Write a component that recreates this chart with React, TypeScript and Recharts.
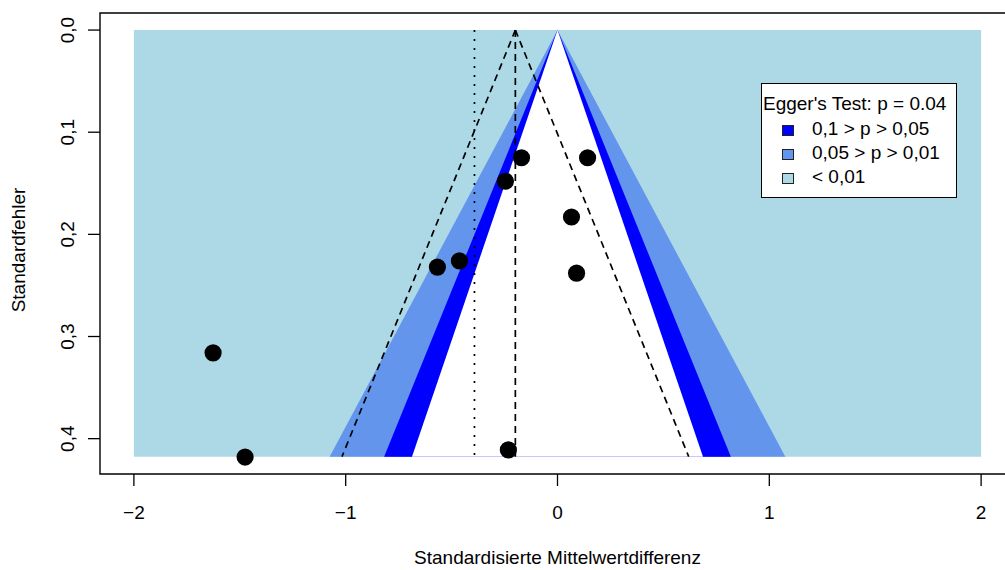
import {
  ComposedChart,
  Area,
  Line,
  Scatter,
  XAxis,
  YAxis,
  ReferenceArea,
  Legend,
} from "recharts";

// studies
const studySmd = [-1.626, -1.475, -0.567, -0.463, -0.246, -0.17, 0.142, 0.066, 0.09, -0.232];
const studySe = [0.316, 0.418, 0.232, 0.226, 0.148, 0.125, 0.125, 0.183, 0.238, 0.411];

const pooledSmd = -0.199; // dashed funnel centre
const adjustedSmd = -0.392; // dotted line
const seMax = 0.4176;
const shadeLimit = 2;
// contour z values for p = 0.01, 0.05, 0.1 (two sided)
const contourZ = [2.576, 1.96, 1.645];
const contourColors = ["#6495ED", "#0000FF", "#FFFFFF"];

const xTicks = [-2, -1, 0, 1, 2];
const yTicks = [0, 0.1, 0.2, 0.3, 0.4];
const xDomain = [-2.16, 2.16];
const yDomain = [-0.0167, 0.4346];

const legendTitle = "Egger's Test: p = 0.04";
const legendLabels = ["0,1 > p > 0,05", "0,05 > p > 0,01", "< 0,01"];
const legendColors = ["#0000FF", "#6495ED", "#ADD8E6"];

const seLevels = [0, seMax];
const funnelData = seLevels.map((se) => ({
  se,
  outer: [-shadeLimit, shadeLimit],
  c0: [-contourZ[0] * se, contourZ[0] * se],
  c1: [-contourZ[1] * se, contourZ[1] * se],
  c2: [-contourZ[2] * se, contourZ[2] * se],
  ciLow: pooledSmd - 1.96 * se,
  ciHigh: pooledSmd + 1.96 * se,
  pooled: pooledSmd,
  adjusted: adjustedSmd,
}));

const studies = studySmd.map((smd, i) => ({ smd, se: studySe[i] }));

const font = "'Liberation Sans', Arial, sans-serif";

const XTick = ({ x, y, payload }: any) => {
  const v = payload.value;
  const txt = v < 0 ? "\u2212" + Math.abs(v) : String(v);
  return (
    <text x={x} y={y + 33} textAnchor="middle" fontSize={19} fill="#000" fontFamily={font}>
      {txt}
    </text>
  );
};

const YTick = ({ x, y, payload }: any) => {
  const bx = x - 14;
  return (
    <text
      x={bx}
      y={y}
      transform={`rotate(-90 ${bx} ${y})`}
      textAnchor="middle"
      fontSize={19}
      fill="#000"
      fontFamily={font}
    >
      {payload.value.toFixed(1).replace(".", ",")}
    </text>
  );
};

const Dot = (props: any) => <circle cx={props.cx} cy={props.cy} r={8.6} fill="#000" />;

const LegendBox = () => (
  <div
    style={{
      position: "relative",
      width: 196,
      height: 115,
      boxSizing: "border-box",
      border: "1.3px solid #000",
      background: "#fff",
      fontFamily: font,
      fontSize: 19,
      color: "#000",
    }}
  >
    <div style={{ position: "absolute", left: 1, top: 9, lineHeight: "22px", whiteSpace: "nowrap" }}>
      {legendTitle}
    </div>
    {legendLabels.map((lab, i) => (
      <div key={lab}>
        <div
          style={{
            position: "absolute",
            left: 20,
            top: 41 + i * 24,
            width: 10,
            height: 9,
            background: legendColors[i],
            border: "1px solid #222",
          }}
        />
        <div
          style={{
            position: "absolute",
            left: 50,
            top: 34 + i * 24,
            lineHeight: "22px",
            whiteSpace: "nowrap",
          }}
        >
          {lab}
        </div>
      </div>
    ))}
  </div>
);

export default function App() {
  return (
    <div
      style={{
        position: "fixed",
        left: 0,
        top: 0,
        width: 1005,
        height: 570,
        overflow: "hidden",
        background: "#fff",
        fontFamily: font,
      }}
    >
      <ComposedChart
        width={1030}
        height={570}
        layout="vertical"
        data={funnelData}
        margin={{ top: 13, right: 15, bottom: 0, left: 0 }}
      >
        <XAxis
          type="number"
          dataKey="smd"
          domain={xDomain}
          ticks={xTicks}
          allowDataOverflow
          axisLine={false}
          tickSize={12}
          tickMargin={0}
          tickLine={{ stroke: "#000", strokeWidth: 1.3 }}
          tick={XTick}
          height={96}
          label={{
            value: "Standardisierte Mittelwertdifferenz",
            position: "insideBottom",
            offset: 6,
            fontSize: 19,
            fill: "#000",
          }}
        />
        <YAxis
          type="number"
          dataKey="se"
          domain={yDomain}
          ticks={yTicks}
          allowDataOverflow
          axisLine={false}
          tickSize={12}
          tickMargin={0}
          tickLine={{ stroke: "#000", strokeWidth: 1.3 }}
          tick={YTick}
          width={100}
          label={{
            content: () => (
              <text
                x={25}
                y={250}
                transform="rotate(-90 25 250)"
                textAnchor="middle"
                fontSize={19}
                fill="#000"
                fontFamily={font}
              >
                Standardfehler
              </text>
            ),
          }}
        />
        <Area dataKey="outer" type="linear" stroke="none" fill="#ADD8E6" fillOpacity={1} dot={false} activeDot={false} isAnimationActive={false} />
        <Area dataKey="c0" type="linear" stroke="none" fill={contourColors[0]} fillOpacity={1} dot={false} activeDot={false} isAnimationActive={false} />
        <Area dataKey="c1" type="linear" stroke="none" fill={contourColors[1]} fillOpacity={1} dot={false} activeDot={false} isAnimationActive={false} />
        <Area dataKey="c2" type="linear" stroke="none" fill={contourColors[2]} fillOpacity={1} dot={false} activeDot={false} isAnimationActive={false} />
        <Line dataKey="adjusted" type="linear" stroke="#000" strokeWidth={1.7} strokeDasharray="2 7" dot={false} isAnimationActive={false} />
        <Line dataKey="pooled" type="linear" stroke="#000" strokeWidth={1.7} strokeDasharray="7 5" dot={false} isAnimationActive={false} />
        <Line dataKey="ciLow" type="linear" stroke="#000" strokeWidth={1.7} strokeDasharray="7 5" dot={false} isAnimationActive={false} />
        <Line dataKey="ciHigh" type="linear" stroke="#000" strokeWidth={1.7} strokeDasharray="7 5" dot={false} isAnimationActive={false} />
        <Scatter data={studies} shape={Dot} isAnimationActive={false} />
        <ReferenceArea
          x1={xDomain[0]}
          x2={xDomain[1]}
          y1={yDomain[0]}
          y2={yDomain[1]}
          fill="none"
          stroke="#000"
          strokeWidth={1.4}
          ifOverflow="visible"
        />
        <Legend
          verticalAlign="middle"
          align="center"
          layout="horizontal"
          wrapperStyle={{ left: 761, top: 83, width: 196, height: 115 }}
          content={LegendBox}
        />
      </ComposedChart>
    </div>
  );
}
